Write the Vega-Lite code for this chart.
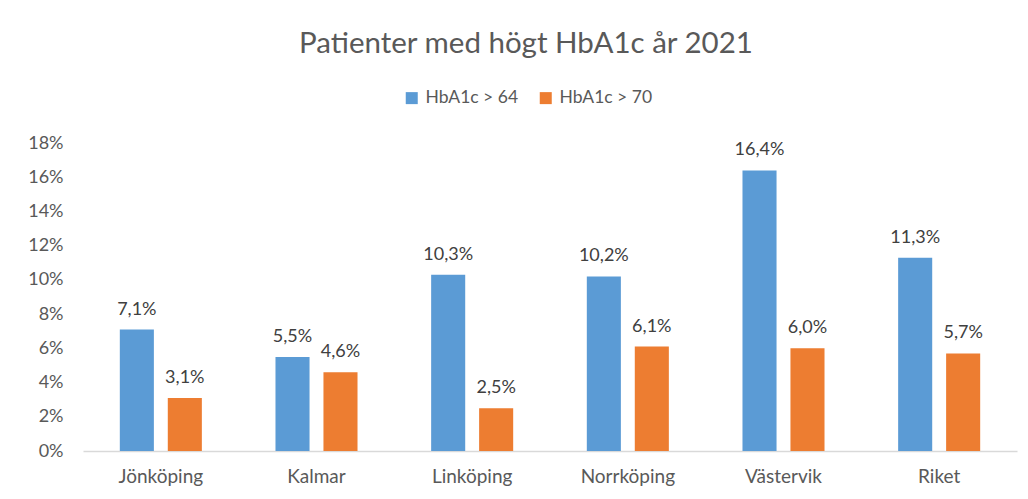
{
  "$schema": "https://vega.github.io/schema/vega-lite/v6.json",
  "width": 934,
  "height": 308,
  "autosize": "none",
  "padding": {"left": 83, "top": 143, "right": 11, "bottom": 48},
  "background": "white",
  "config": {
    "locale": {"number": {"decimal": ",", "thousands": " ", "grouping": [3], "currency": ["", " kr"]}},
    "view": {"stroke": null},
    "font": "Lato"
  },
  "title": {
    "text": "Patienter med högt HbA1c år 2021",
    "anchor": "middle",
    "dx": -24,
    "offset": 30,
    "fontSize": 29.5,
    "fontWeight": "normal",
    "color": "#595959",
    "font": "Lato"
  },
  "data": {
    "values": [
      {"ort": "Jönköping", "serie": "HbA1c > 64", "v": 0.071},
      {"ort": "Jönköping", "serie": "HbA1c > 70", "v": 0.031},
      {"ort": "Kalmar", "serie": "HbA1c > 64", "v": 0.055},
      {"ort": "Kalmar", "serie": "HbA1c > 70", "v": 0.046},
      {"ort": "Linköping", "serie": "HbA1c > 64", "v": 0.103},
      {"ort": "Linköping", "serie": "HbA1c > 70", "v": 0.025},
      {"ort": "Norrköping", "serie": "HbA1c > 64", "v": 0.102},
      {"ort": "Norrköping", "serie": "HbA1c > 70", "v": 0.061},
      {"ort": "Västervik", "serie": "HbA1c > 64", "v": 0.164},
      {"ort": "Västervik", "serie": "HbA1c > 70", "v": 0.060},
      {"ort": "Riket", "serie": "HbA1c > 64", "v": 0.113},
      {"ort": "Riket", "serie": "HbA1c > 70", "v": 0.057}
    ]
  },
  "encoding": {
    "x": {
      "field": "ort", "type": "nominal", "sort": null,
      "scale": {"paddingInner": 0.473, "paddingOuter": 0.2365},
      "axis": {
        "title": null, "labelAngle": 0, "ticks": false,
        "domainColor": "#d9d9d9", "domainWidth": 1.5,
        "labelFontSize": 19, "labelColor": "#595959", "labelPadding": 16, "labelFont": "Lato"
      }
    },
    "xOffset": {"field": "serie", "type": "nominal", "scale": {"paddingInner": 0.29, "paddingOuter": 0}},
    "y": {
      "field": "v", "type": "quantitative",
      "scale": {"domain": [0, 0.18], "nice": false},
      "axis": {
        "title": null, "format": ".0%", "values": [0, 0.02, 0.04, 0.06, 0.08, 0.1, 0.12, 0.14, 0.16, 0.18],
        "domain": false, "ticks": false, "grid": false,
        "labelFontSize": 18, "labelColor": "#595959", "labelPadding": 20, "labelFont": "Lato"
      }
    }
  },
  "layer": [
    {
      "mark": {"type": "bar"},
      "encoding": {
        "color": {
          "field": "serie", "type": "nominal",
          "scale": {"domain": ["HbA1c > 64", "HbA1c > 70"], "range": ["#5B9BD5", "#ED7D31"]},
          "legend": {
            "title": null, "orient": "none", "direction": "horizontal",
            "legendX": 320, "legendY": -54,
            "symbolType": "square", "symbolSize": 144, "symbolStrokeWidth": 0,
            "labelFontSize": 17.5, "labelColor": "#595959", "labelFont": "Lato",
            "columnPadding": 18, "labelOffset": 5
          }
        }
      }
    },
    {
      "mark": {"type": "text", "baseline": "bottom", "dy": -11, "fontSize": 18, "color": "#404040", "font": "Lato"},
      "encoding": {
        "text": {"field": "v", "type": "quantitative", "format": ".1%"}
      }
    }
  ]
}
